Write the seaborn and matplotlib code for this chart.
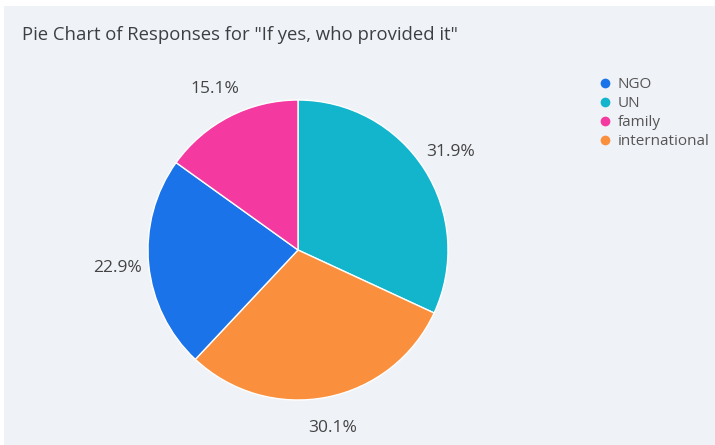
import matplotlib
matplotlib.use("Agg")
import matplotlib.pyplot as plt
from matplotlib.lines import Line2D
from matplotlib.patches import Rectangle
import seaborn as sns

# Survey responses to "If yes, who provided it"
providers = ["UN", "international", "NGO", "family"]
shares = [31.9, 30.1, 22.9, 15.1]
legend_order = ["NGO", "UN", "family", "international"]
palette = {
    "NGO": "#1A73E8",
    "UN": "#12B5CB",
    "family": "#F439A0",
    "international": "#FA903E",
}

sns.set_theme(style="white")
plt.rcParams["font.family"] = ["Open Sans", "DejaVu Sans"]

W, H = 715, 445
fig = plt.figure(figsize=(W / 100, H / 100), dpi=100)
fig.patch.set_facecolor("white")
fig.patches.append(Rectangle((4 / W, 0), 1 - 4 / W, 1 - 6 / H,
                             transform=fig.transFigure, facecolor="#EFF2F7",
                             edgecolor="none", zorder=-10))

cx, cy, r = 298, 250, 150
ax = fig.add_axes([(cx - r) / W, (H - cy - r) / H, 2 * r / W, 2 * r / H])
ax.set_facecolor("none")
wedges, _, autotexts = ax.pie(
    shares,
    colors=[palette[p] for p in providers],
    startangle=90,
    counterclock=False,
    autopct="%.1f%%",
    pctdistance=1.21,
    radius=1,
    wedgeprops=dict(edgecolor="white", linewidth=1),
    textprops=dict(color="#444444", fontsize=12.5),
)
ax.set_xlim(-1, 1)
ax.set_ylim(-1, 1)
ax.set_aspect("equal")
ax.axis("off")

fig.text(22 / W, 1 - 35 / H, 'Pie Chart of Responses for "If yes, who provided it"',
         fontsize=13.3, color="#3C4043", va="center", ha="left")

handles = [Line2D([0], [0], marker="o", linestyle="none", markersize=7,
                  markerfacecolor=palette[k], markeredgecolor="none")
           for k in legend_order]
leg = fig.legend(handles, legend_order, loc="upper left",
                 bbox_to_anchor=(599 / W, 1 - 77.5 / H), frameon=False,
                 fontsize=11, labelspacing=0.25, handlelength=0.8,
                 handletextpad=0.4, borderaxespad=0, borderpad=0)
for t in leg.get_texts():
    t.set_color("#555555")

fig.savefig("out.png", dpi=100)
